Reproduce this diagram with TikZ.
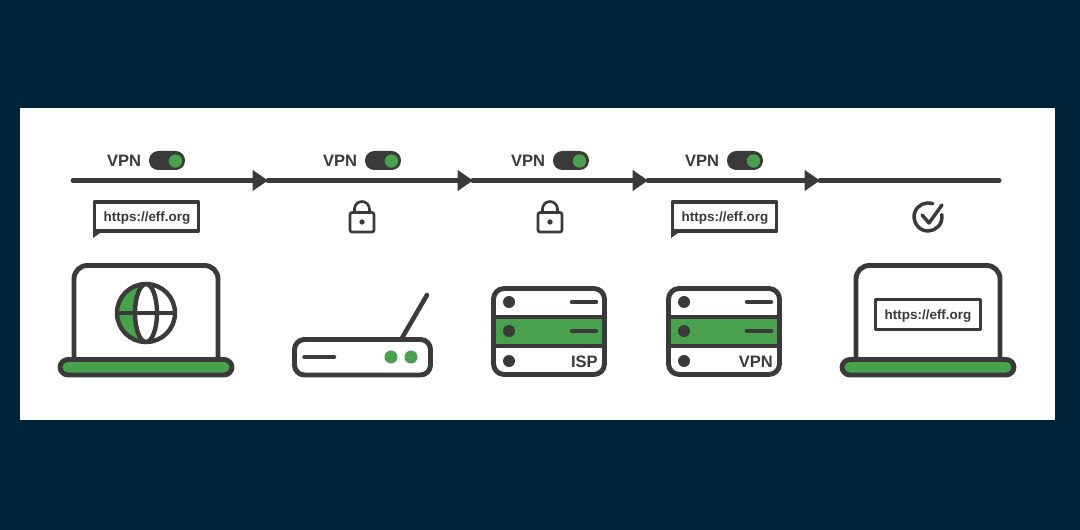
\documentclass[tikz,border=0pt]{standalone}
\usepackage{fontspec}
\setmainfont{Liberation Sans}
\usetikzlibrary{arrows.meta}

\definecolor{navy}{HTML}{02243A}
\definecolor{ink}{HTML}{3A3A3A}
\definecolor{leaf}{HTML}{48A14D}

\tikzset{
    flow/.style={draw=ink, line width=3.75pt, line cap=round,
        -{Triangle[length=11.5pt,width=15pt]}},
    outline/.style={draw=ink, line width=3.7pt, line join=round},
    thin outline/.style={draw=ink, line width=2pt, line join=round},
    bar/.style={draw=ink, line width=3.4pt, line cap=round},
    label/.style={font=\bfseries\fontsize{12.4}{14}\selectfont, text=ink, inner sep=0pt},
    url/.style={label, font=\bfseries\fontsize{10.1}{12}\selectfont},
    pics/toggle/.style={code={
        \fill[ink, rounded corners=7pt] (0,-9.5) rectangle (36,9.5);
        \fill[leaf] (26.5,0.5) circle (5pt);
    }},
    pics/bubble/.style={code={
        \draw[outline, line width=2.7pt, fill=white] (0,30) -- (0,0) -- (104,0) -- (104,29) -- (0,29);
        \fill[ink] (-1.5,29) -- (-1.5,36) -- (7,30) -- cycle;
    }},
    pics/padlock/.style={code={
        \draw[thin outline] (-7.5,12) -- (-7.5,9) arc[start angle=180, end angle=0, radius=5.6pt] -- (7.5,12);
        \draw[thin outline, fill=white, rounded corners=1.5pt] (-12,12.5) rectangle (12,32);
        \fill[ink] (0,22) circle (2pt);
    }},
    pics/laptop/.style={code={
        \draw[outline, rounded corners=10pt] (-72,362) -- (-72,265.5) -- (72,265.5) -- (72,362);
        \draw[outline, fill=leaf, rounded corners=6pt] (-86,359.5) rectangle (86,375);
    }},
    pics/server/.style={code={
        \fill[leaf] (0,317) rectangle (116,346);
        \draw[outline] (0,317) -- (116,317) (0,346) -- (116,346);
        \draw[outline, rounded corners=8pt] (2.5,288.5) rectangle (113.5,374.5);
        \foreach \y in {302,331,361}
            \fill[ink] (18,\y) circle (4.5pt);
        \foreach \y in {302,331}
            \draw[bar] (81,\y) -- (105,\y);
        \node[label, anchor=east] (#1) at (107,361.5) {#1};
    }},
}

\begin{document}
\begin{tikzpicture}[x=0.75pt, y=-0.75pt]
    \useasboundingbox (0,0) rectangle (1080,530);
    \fill[navy] (0,0) rectangle (1080,530);
    \fill[white] (20,108) rectangle (1055,420);

    \coordinate (flowstart) at (73,180.5);
    \coordinate (tipA) at (268,180.5);
    \coordinate (tipB) at (473,180.5);
    \coordinate (tipC) at (648,180.5);
    \coordinate (tipD) at (820,180.5);
    \coordinate (flowend) at (999,180.5);
    \draw[flow] (flowstart) -- (tipA);
    \draw[flow] (tipA) -- (tipB);
    \draw[flow] (tipB) -- (tipC);
    \draw[flow] (tipC) -- (tipD);
    \draw[flow, -] (tipD) -- (flowend);

    \foreach \x/\lbl in {124/vpnA, 340/vpnB, 528/vpnC, 702/vpnD} {
        \node[label] (\lbl) at (\x,160.5) {VPN};
        \pic at (\x+25,160.5) {toggle};
    }

    \pic at (94.5,202) {bubble};
    \node[url] (urlA) at (147,218.5) {https://eff.org};
    \pic at (672.5,202) {bubble};
    \node[url] (urlB) at (725,218.5) {https://eff.org};

    \pic at (362,200) {padlock};
    \pic at (550,200) {padlock};

    \pic at (146,0) {laptop};
    \draw[draw=none, fill=leaf] (146,284) arc[start angle=90, end angle=270, radius=21.75pt]
        arc[start angle=270, end angle=90, x radius=8.25pt, y radius=21.75pt];
    \draw[outline, line width=3.3pt] (146,313) circle (21.75pt);
    \draw[outline, line width=3.3pt] (146,313) ellipse (8.25pt and 21.75pt);
    \draw[outline, line width=3.3pt] (117,313) -- (175,313);

    \draw[outline, rounded corners=7.5pt, fill=white] (294.5,339.5) rectangle (430.5,375);
    \draw[bar] (304.5,357) -- (334,357);
    \fill[leaf] (391,357) circle (4.9pt);
    \fill[leaf] (411,357) circle (4.9pt);
    \draw[bar] (402,338) -- (427,295);

    \pic at (491,0) {server=ISP};
    \pic at (666,0) {server=VPN};

    \draw[outline, line width=2.6pt, line cap=round] (932.8,203.8) arc[start angle=70, delta angle=300, radius=10.5pt];
    \draw[outline, line width=2.6pt, line cap=round] (922,215) -- (929,223) -- (942,205);

    \pic at (928,0) {laptop};
    \draw[outline, line width=2.7pt] (875.5,299.5) rectangle (980.5,329.5);
    \node[url] (urlC) at (928,316) {https://eff.org};
\end{tikzpicture}
\end{document}
